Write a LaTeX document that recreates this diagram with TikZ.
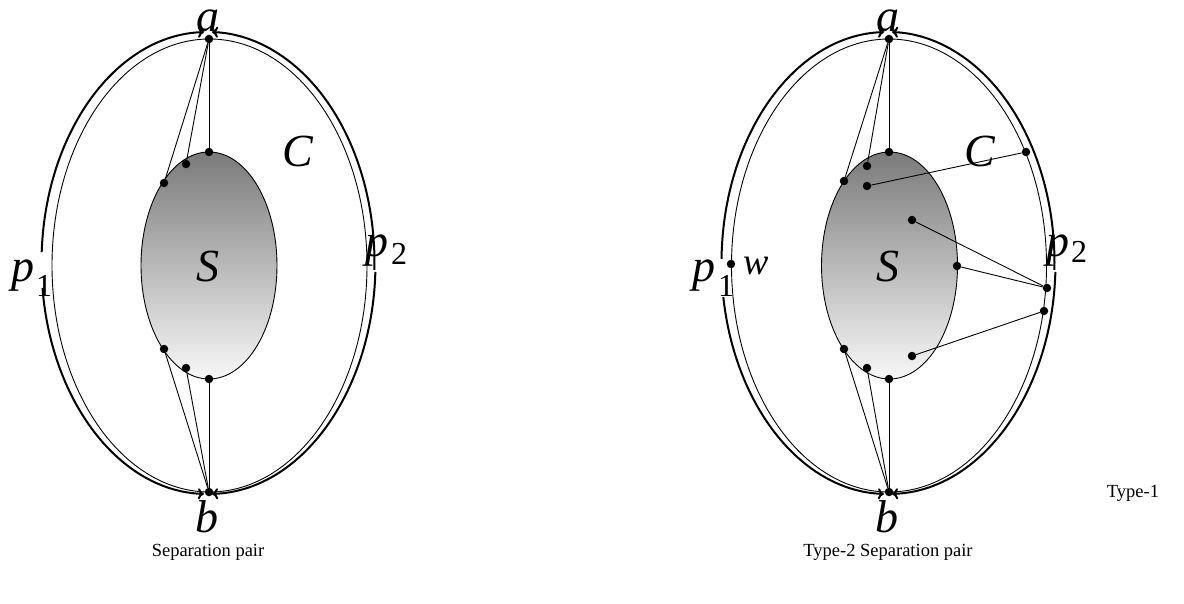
\documentclass[tikz,border=0pt]{standalone}
\usepackage{fontspec}
\setmainfont{Liberation Serif}
\usetikzlibrary{arrows.meta}
\begin{document}
\begin{tikzpicture}[x=1pt,y=-1pt,
  edge/.style={line width=0.9pt},
  outer/.style={line width=2pt,-{To[length=6pt,width=11pt]}},
  dot/.style={circle,fill=black,inner sep=0pt,minimum size=8.5pt},
  sset/.style={line width=0.9pt,top color=black!52,bottom color=black!3},
  lbl/.style={anchor=base,inner sep=0pt,font=\fontsize{46}{46}\selectfont\itshape},
  wlbl/.style={anchor=base,inner sep=0pt,font=\fontsize{38}{38}\selectfont\itshape},
  sub/.style={anchor=base,inner sep=0pt,font=\fontsize{32}{32}\selectfont},
  caption/.style={anchor=base,inner sep=0pt,font=\fontsize{18.5}{20}\selectfont}]
\useasboundingbox (0,0) rectangle (1184,604);

% ---------------- left diagram ----------------
\draw[edge] (209.5,265.5) ellipse[x radius=157.5,y radius=226.5];
\draw[sset] (209,265.5) ellipse[x radius=68,y radius=113.5];
\draw[outer] ([shift={(208,263)}]182.7:166.5 and 231) arc[start angle=182.7,end angle=268.6,x radius=166.5,y radius=231];
\draw[outer] ([shift={(208,263)}]173.8:166.5 and 231) arc[start angle=173.8,end angle=91.4,x radius=166.5,y radius=231];
\draw[outer] ([shift={(208,263)}]1.7:166.5 and 231) arc[start angle=1.7,end angle=-88.6,x radius=166.5,y radius=231];
\draw[outer] ([shift={(208,263)}]2.2:167.5 and 231) arc[start angle=2.2,end angle=88.6,x radius=167.5,y radius=231];

\node[dot] (La) at (209,39) {};
\node[dot] (Lb) at (209,492) {};
\node[dot] (Ls1) at (209,152) {};
\node[dot] (Ls2) at (186,164) {};
\node[dot] (Ls3) at (164,183) {};
\node[dot] (Ls4) at (164,349) {};
\node[dot] (Ls5) at (186,368) {};
\node[dot] (Ls6) at (209,379) {};
\draw[edge] (La) -- (Ls1);
\draw[edge] (La) -- (Ls2);
\draw[edge] (La) -- (Ls3);
\draw[edge] (Lb) -- (Ls4);
\draw[edge] (Lb) -- (Ls5);
\draw[edge] (Lb) -- (Ls6);

\node[lbl] (Lla) at (208,32) {\raisebox{0pt}[0.45em][0pt]{a}};
\node[lbl] (Llb) at (207,532) {b};
\node[lbl] (LlC) at (298,167) {C};
\node[lbl] (LlS) at (208,282) {S};
\node[lbl] (Llp1) at (23,282) {p};
\node[sub] (Lls1) at (44,297) {1};
\node[lbl] (Llp2) at (377,257) {p};
\node[sub] (Lls2) at (399,265) {2};
\node[caption] (Lcap) at (208,556) {Separation pair};

% ---------------- right diagram ----------------
\draw[edge] (889,265.5) ellipse[x radius=157.5,y radius=226.5];
\draw[sset] (889.5,265.5) ellipse[x radius=68,y radius=113.5];
\draw[outer] ([shift={(888,263)}]181:166.5 and 231) arc[start angle=181,end angle=268.6,x radius=166.5,y radius=231];
\draw[outer] ([shift={(888,263)}]171.5:166.5 and 231) arc[start angle=171.5,end angle=91.4,x radius=166.5,y radius=231];
\draw[outer] ([shift={(888,263)}]1.7:166.5 and 231) arc[start angle=1.7,end angle=-88.6,x radius=166.5,y radius=231];
\draw[outer] ([shift={(888,263)}]2.2:167.5 and 231) arc[start angle=2.2,end angle=88.6,x radius=167.5,y radius=231];

\node[dot] (Ra) at (889,39) {};
\node[dot] (Rb) at (889,492) {};
\node[dot] (Rs1) at (889,152) {};
\node[dot] (Rs2) at (867,166) {};
\node[dot] (Rs3) at (844,181) {};
\node[dot] (Rs4) at (844,349) {};
\node[dot] (Rs5) at (867,368) {};
\node[dot] (Rs6) at (889,379) {};
\node[dot] (Rs7) at (867,186) {};
\node[dot] (Rs8) at (912,220) {};
\node[dot] (Rs9) at (957,266) {};
\node[dot] (Rs10) at (912,356) {};
\node[dot] (Rc1) at (1026,152) {};
\node[dot] (Rc2) at (1047,288) {};
\node[dot] (Rc3) at (1044,311) {};
\node[dot] (Rw) at (731,264) {};
\draw[edge] (Ra) -- (Rs1);
\draw[edge] (Ra) -- (Rs2);
\draw[edge] (Ra) -- (Rs3);
\draw[edge] (Rb) -- (Rs4);
\draw[edge] (Rb) -- (Rs5);
\draw[edge] (Rb) -- (Rs6);
\draw[edge] (Rs7) -- (Rc1);
\draw[edge] (Rs8) -- (Rc2);
\draw[edge] (Rs9) -- (Rc2);
\draw[edge] (Rs10) -- (Rc3);

\node[lbl] (Rla) at (888,32) {\raisebox{0pt}[0.45em][0pt]{a}};
\node[lbl] (Rlb) at (887,532) {b};
\node[lbl] (RlC) at (980,167) {C};
\node[lbl] (RlS) at (888,282) {S};
\node[lbl] (Rlp1) at (704,281) {p};
\node[sub] (Rls1) at (726,297) {1};
\node[wlbl] (Rlw) at (756,275) {w};
\node[lbl] (Rlp2) at (1058,257) {p};
\node[sub] (Rls2) at (1079,263) {2};
\node[caption] (Rcap) at (888,556) {Type-2 Separation pair};
\node[caption] (Rtype) at (1133,497) {Type-1};
\end{tikzpicture}
\end{document}
